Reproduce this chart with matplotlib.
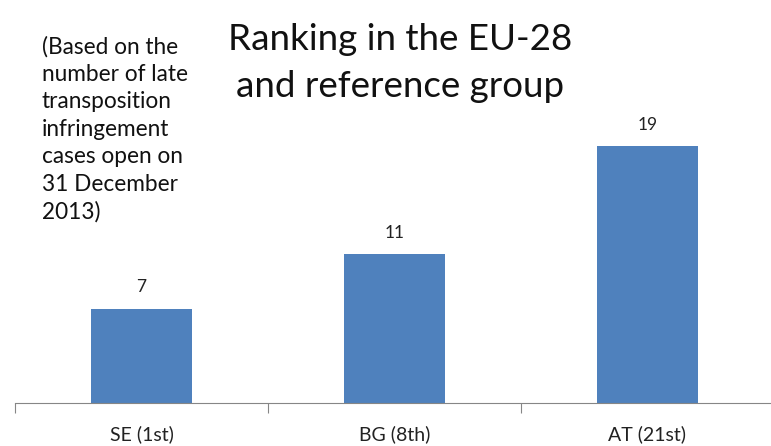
import matplotlib
matplotlib.use("Agg")
import matplotlib.pyplot as plt

categories = ["SE (1st)", "BG (8th)", "AT (21st)"]
values = [7, 11, 19]

plt.rcParams['font.family'] = ['Lato', 'DejaVu Sans']

fig = plt.figure(figsize=(7.71, 4.46), dpi=100)
ax = fig.add_axes([15/771, 43/446, 1 - 15/771 + 0.01, 403/446])

x = list(range(len(categories)))
bars = ax.bar(x, values, width=0.4, color="#4F81BD")
ax.set_xlim(-0.5, 2.5 + 0.02)
ax.set_ylim(0, 403/13.5)

for xi, v in zip(x, values):
    ax.text(xi, v + 1.0, str(v), ha="center", va="bottom", fontsize=12.5, color="#222222")

for s in ["top", "right", "left"]:
    ax.spines[s].set_visible(False)
ax.spines["bottom"].set_color("#868686")
ax.set_yticks([])
ax.set_xticks([-0.5, 0.5, 1.5])
ax.set_xticklabels([])
ax.tick_params(axis="x", length=7, color="#868686", direction="out")
for xi, c in zip(x, categories):
    ax.text(xi, -31/13.5, c, ha="center", va="center", fontsize=14, color="#222222", clip_on=False)

fig.text(400/771, 1 - 50/446, "Ranking in the EU-28", ha="center", va="baseline", fontsize=26.5, color="#111111")
fig.text(400/771, 1 - 97/446, "and reference group", ha="center", va="baseline", fontsize=26.5, color="#111111")

note = "(Based on the\nnumber of late\ntransposition\ninfringement\ncases open on\n31 December\n2013)"
fig.text(42/771, 1 - 36/446, note, ha="left", va="top", fontsize=16.3, color="#111111", linespacing=1.38)

fig.savefig("out.png", dpi=100)
